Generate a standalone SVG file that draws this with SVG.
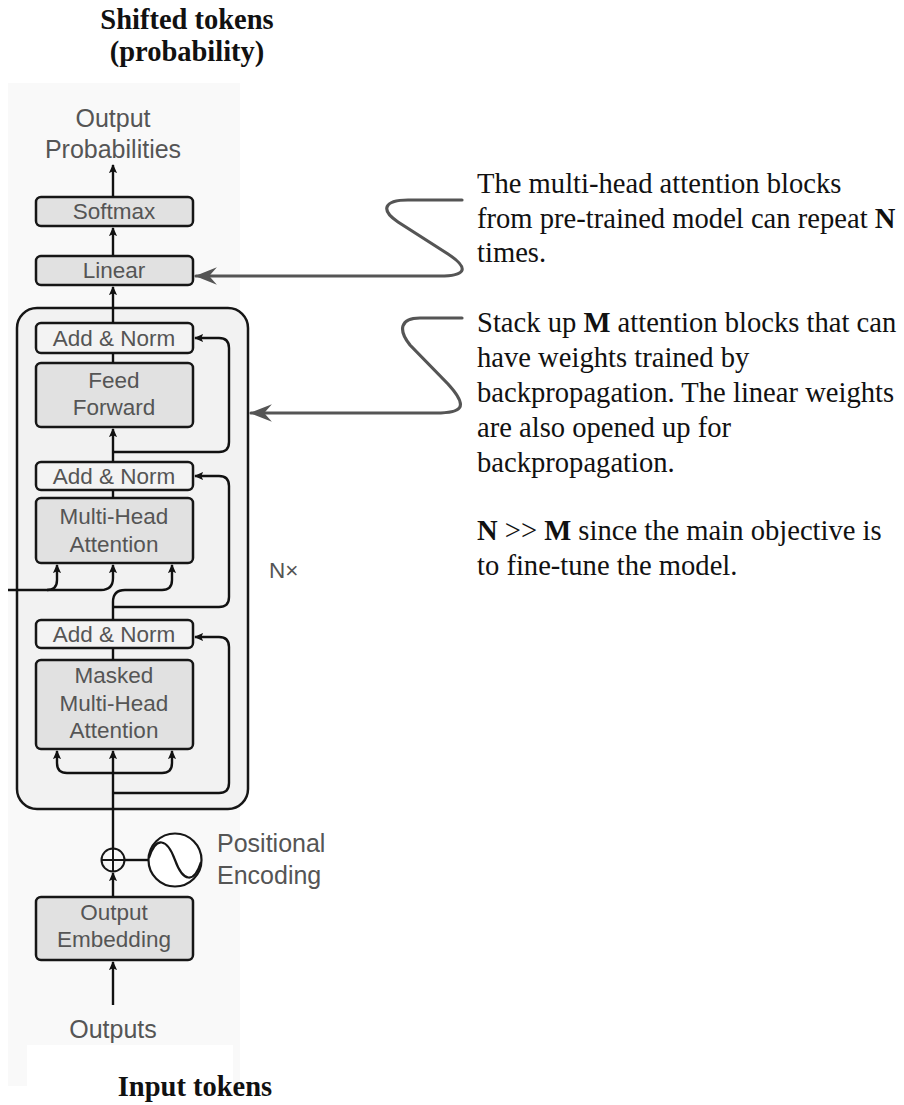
<svg xmlns="http://www.w3.org/2000/svg" width="904" height="1105" viewBox="0 0 904 1105">
  <defs>
    <marker id="ah" viewBox="0 0 10 10" refX="9" refY="5" markerWidth="9" markerHeight="10" markerUnits="userSpaceOnUse" orient="auto">
      <path d="M0,0.5 L10,5 L0,9.5 L2,5 z" fill="#111"/>
    </marker>
    <marker id="gh" viewBox="0 0 20 16" refX="19" refY="8" markerWidth="22" markerHeight="18" markerUnits="userSpaceOnUse" orient="auto">
      <path d="M0,0 L20,8 L0,16 L7,8 z" fill="#555"/>
    </marker>
    <style>
      .lbl { font-family: "Liberation Sans", Arial, sans-serif; font-size: 22.5px; fill: #555; text-anchor: middle; }
      .big { font-size: 25px; }
      .side { text-anchor: start; }
      .box { fill: #e1e1e1; stroke: #161616; stroke-width: 2.5; }
      .norm { fill: #f3f3f3; stroke: #161616; stroke-width: 2.5; }
      .wire { fill: none; stroke: #111; stroke-width: 2.4; }
      .note { font-family: "Liberation Serif", "Times New Roman", serif; font-size: 28.6px; fill: #111; }
      .head { font-family: "Liberation Serif", "Times New Roman", serif; font-size: 28.5px; font-weight: bold; fill: #111; text-anchor: middle; }
      .curl { fill: none; stroke: #555; stroke-width: 3.2; stroke-linecap: round; }
    </style>
  </defs>

  <rect width="904" height="1105" fill="#ffffff"/>

  <!-- decoder panel background -->
  <rect x="8" y="83" width="232" height="1003" fill="#f9f9f9"/>
  <rect x="27" y="1045" width="206" height="41" fill="#ffffff"/>

  <!-- headings -->
  <text class="head" x="187" y="29">Shifted tokens</text>
  <text class="head" x="187" y="61">(probability)</text>
  <text class="head" x="195" y="1096">Input tokens</text>

  <!-- repeated block -->
  <g id="stack">
    <rect x="17" y="308" width="231" height="501" rx="20" fill="#f2f2f2" stroke="#161616" stroke-width="2.5"/>
    <text class="lbl side" x="269" y="578" font-size="23">N×</text>
  </g>

  <g id="output-probabilities">
    <text class="lbl big" x="113" y="127">Output</text>
    <text class="lbl big" x="113" y="158">Probabilities</text>
  </g>

  <g id="softmax">
    <rect class="box" x="36" y="197" width="157" height="29" rx="5"/>
    <text class="lbl" x="114" y="219">Softmax</text>
  </g>

  <g id="linear">
    <rect class="box" x="36" y="256" width="157" height="29" rx="5"/>
    <text class="lbl" x="114" y="278">Linear</text>
  </g>

  <g id="add-norm-3">
    <rect class="norm" x="36" y="323" width="157" height="30" rx="5"/>
    <text class="lbl" x="114" y="346">Add &amp; Norm</text>
  </g>

  <g id="feed-forward">
    <rect class="box" x="36" y="363" width="157" height="64" rx="5"/>
    <text class="lbl" x="114" y="388">Feed</text>
    <text class="lbl" x="114" y="415">Forward</text>
  </g>

  <g id="add-norm-2">
    <rect class="norm" x="36" y="462" width="157" height="28" rx="5"/>
    <text class="lbl" x="114" y="484">Add &amp; Norm</text>
  </g>

  <g id="multi-head-attention">
    <rect class="box" x="36" y="498" width="157" height="65" rx="5"/>
    <text class="lbl" x="114" y="524">Multi-Head</text>
    <text class="lbl" x="114" y="552">Attention</text>
  </g>

  <g id="add-norm-1">
    <rect class="norm" x="36" y="620" width="157" height="28" rx="5"/>
    <text class="lbl" x="114" y="642">Add &amp; Norm</text>
  </g>

  <g id="masked-attention">
    <rect class="box" x="36" y="660" width="157" height="89" rx="5"/>
    <text class="lbl" x="114" y="683">Masked</text>
    <text class="lbl" x="114" y="711">Multi-Head</text>
    <text class="lbl" x="114" y="738">Attention</text>
  </g>

  <g id="add-op">
    <circle cx="113" cy="860" r="11.5" fill="#f7f7f7" stroke="#161616" stroke-width="2"/>
    <path d="M101.5,860 H124.5 M113,848.5 V871.5" stroke="#161616" stroke-width="2" fill="none"/>
  </g>

  <g id="positional-encoding">
    <circle cx="175" cy="860" r="26.5" fill="#ffffff" stroke="#161616" stroke-width="2.2"/>
    <path d="M149,858 C156,836 167,838 175,860 C183,882 194,884 201,862" fill="none" stroke="#161616" stroke-width="2.2"/>
    <text class="lbl big side" x="217" y="852">Positional</text>
    <text class="lbl big side" x="217" y="884">Encoding</text>
  </g>

  <g id="output-embedding">
    <rect class="box" x="36" y="897" width="157" height="63" rx="5"/>
    <text class="lbl" x="114" y="920">Output</text>
    <text class="lbl" x="114" y="947">Embedding</text>
  </g>

  <g id="outputs">
    <text class="lbl big" x="113" y="1038">Outputs</text>
  </g>

  <!-- connectors -->
  <g id="connectors">
    <line class="wire" x1="113" y1="1005" x2="113" y2="962" marker-end="url(#ah)"/>
    <line class="wire" x1="113" y1="897" x2="113" y2="873" marker-end="url(#ah)"/>
    <line class="wire" x1="113" y1="848" x2="113" y2="751" marker-end="url(#ah)"/>
    <line class="wire" x1="125" y1="860" x2="148" y2="860"/>
    <path class="wire" d="M113,793 H219 Q229,793 229,783 V647 Q229,637 219,637 H195" marker-end="url(#ah)"/>
    <path class="wire" d="M113,773 H67 Q57,773 57,763 V751" marker-end="url(#ah)"/>
    <path class="wire" d="M113,773 H162 Q172,773 172,763 V751" marker-end="url(#ah)"/>
    <line class="wire" x1="113" y1="660" x2="113" y2="648"/>
    <path class="wire" d="M113,620 V602 Q113,590 125,590 H162 Q172,590 172,580 V565" marker-end="url(#ah)"/>
    <path class="wire" d="M113,607 H219 Q229,607 229,597 V486 Q229,476 219,476 H195" marker-end="url(#ah)"/>
    <path class="wire" d="M8,590 H47 Q57,590 57,580 V565" marker-end="url(#ah)"/>
    <path class="wire" d="M47,590 H101 Q113,590 113,578 V565" marker-end="url(#ah)"/>
    <line class="wire" x1="113" y1="498" x2="113" y2="490"/>
    <line class="wire" x1="113" y1="462" x2="113" y2="429" marker-end="url(#ah)"/>
    <path class="wire" d="M113,452 H219 Q229,452 229,442 V348 Q229,338 219,338 H195" marker-end="url(#ah)"/>
    <line class="wire" x1="113" y1="363" x2="113" y2="353"/>
    <line class="wire" x1="113" y1="323" x2="113" y2="287" marker-end="url(#ah)"/>
    <line class="wire" x1="113" y1="255" x2="113" y2="228" marker-end="url(#ah)"/>
    <line class="wire" x1="113" y1="197" x2="113" y2="165" marker-end="url(#ah)"/>
    <!-- annotation pointers -->
    <path class="curl" d="M462,200 H408 C384,200 380,210 398,222 L448,254 C472,270 463,276 440,276 H196" marker-end="url(#gh)"/>
    <path class="curl" d="M462,318 H420 C400,318 398,330 410,345 L448,384 C470,408 461,413 436,413 H251" marker-end="url(#gh)"/>
  </g>

  <!-- notes -->
  <g id="note-pretrained">
    <text class="note" x="477" y="193">The multi-head attention blocks</text>
    <text class="note" x="477" y="228">from pre-trained model can repeat <tspan font-weight="bold">N</tspan></text>
    <text class="note" x="477" y="262">times.</text>
  </g>
  <g id="note-finetune">
    <text class="note" x="477" y="332">Stack up <tspan font-weight="bold">M</tspan> attention blocks that can</text>
    <text class="note" x="477" y="367">have weights trained by</text>
    <text class="note" x="477" y="402">backpropagation. The linear weights</text>
    <text class="note" x="477" y="437">are also opened up for</text>
    <text class="note" x="477" y="472">backpropagation.</text>
    <text class="note" x="477" y="540"><tspan font-weight="bold">N</tspan> &gt;&gt; <tspan font-weight="bold">M</tspan> since the main objective is</text>
    <text class="note" x="477" y="575">to fine-tune the model.</text>
  </g>
</svg>
